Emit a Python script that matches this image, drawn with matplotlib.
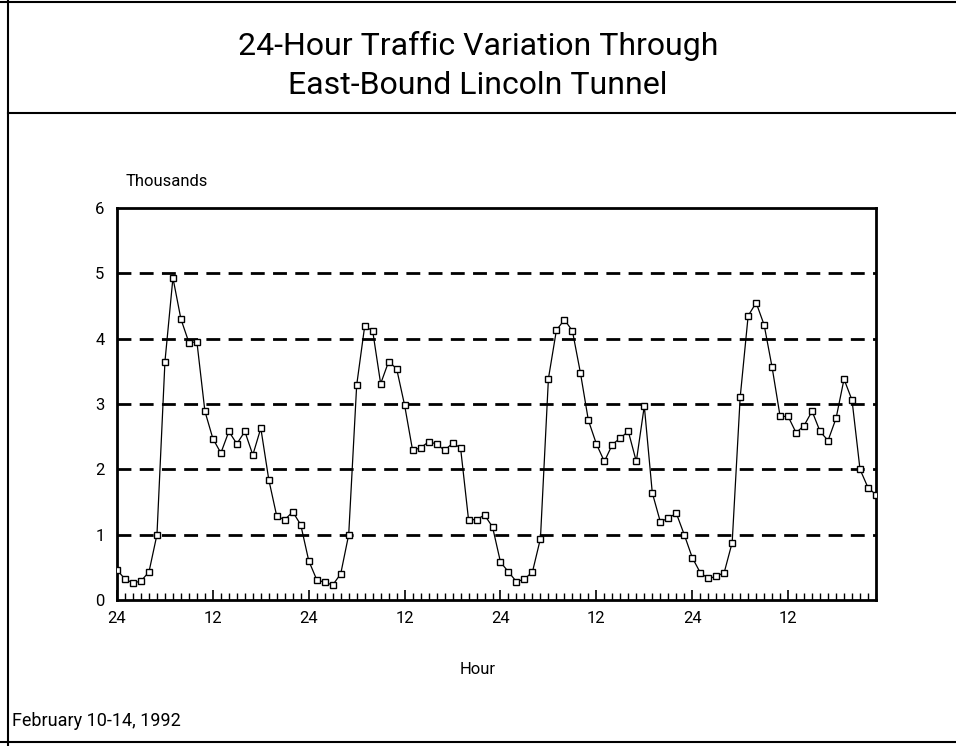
import numpy as np
import matplotlib.pyplot as plt
from matplotlib.lines import Line2D
from matplotlib.ticker import MultipleLocator

plt.rcParams['font.family'] = ['Roboto', 'DejaVu Sans']

# hourly counts (thousands), Feb 10-14 1992
traffic = [0.46, 0.32, 0.26, 0.29, 0.43, 1.00, 3.65, 4.93, 4.30, 3.94,
           3.95, 2.89, 2.47, 2.25, 2.58, 2.39, 2.58, 2.22, 2.63, 1.84,
           1.28, 1.23, 1.35, 1.15, 0.60, 0.31, 0.27, 0.23, 0.40, 1.00,
           3.29, 4.19, 4.12, 3.31, 3.65, 3.54, 2.98, 2.29, 2.33, 2.42,
           2.39, 2.29, 2.40, 2.33, 1.23, 1.23, 1.30, 1.12, 0.58, 0.43,
           0.28, 0.32, 0.43, 0.94, 3.39, 4.13, 4.29, 4.12, 3.48, 2.75,
           2.39, 2.12, 2.38, 2.48, 2.58, 2.12, 2.97, 1.64, 1.20, 1.25,
           1.33, 1.00, 0.65, 0.42, 0.33, 0.36, 0.42, 0.88, 3.10, 4.35,
           4.55, 4.21, 3.56, 2.81, 2.81, 2.56, 2.67, 2.89, 2.58, 2.44,
           2.78, 3.38, 3.06, 2.00, 1.72, 1.61]
hours = np.arange(len(traffic))
tick_pos = [0, 12, 24, 36, 48, 60, 72, 84]
tick_lab = ['24', '12', '24', '12', '24', '12', '24', '12']

fig = plt.figure(figsize=(9.56, 7.46), dpi=100)
ax = fig.add_axes([0.1224, 0.1957, 0.7939, 0.5255])

for v in range(1, 6):
    ax.axhline(v, color='black', lw=2, ls=(0, (5, 3)), zorder=1)

ax.plot(hours, traffic, color='black', lw=0.9, marker='s', ms=4.2,
        mfc='white', mec='black', mew=1.0, zorder=3)

ax.set_xlim(0, 95)
ax.set_ylim(0, 6)
ax.set_xticks(tick_pos)
ax.set_xticklabels(tick_lab)
ax.xaxis.set_minor_locator(MultipleLocator(1))
ax.tick_params(axis='x', which='major', direction='in', length=7, width=1.2,
               labelsize=12, pad=8)
ax.tick_params(axis='x', which='minor', direction='in', length=5, width=1)
ax.set_yticks(range(0, 7))
ax.tick_params(axis='y', length=0, labelsize=12, pad=9)
for s in ax.spines.values():
    s.set_linewidth(2)

fig.text(0.131, 0.757, 'Thousands', fontsize=12, ha='left', va='center')
fig.text(0.5, 0.103, 'Hour', fontsize=12, ha='center', va='center')
fig.text(0.013, 0.033, 'February 10-14, 1992', fontsize=13, ha='left', va='center')

fig.text(0.5, 0.938, '24-Hour Traffic Variation Through', fontsize=23,
         ha='center', va='center')
fig.text(0.5, 0.885, 'East-Bound Lincoln Tunnel', fontsize=23,
         ha='center', va='center')

# outer frame lines
fig.add_artist(Line2D([0.008, 0.008], [0.0, 1.0], color='black', lw=1.5))
fig.add_artist(Line2D([0.0, 1.0], [0.997, 0.997], color='black', lw=1.5))
fig.add_artist(Line2D([0.008, 1.0], [0.849, 0.849], color='black', lw=1.5))
fig.add_artist(Line2D([0.0, 1.0], [0.005, 0.005], color='black', lw=1.5))

fig.savefig('out.png', dpi=100)
